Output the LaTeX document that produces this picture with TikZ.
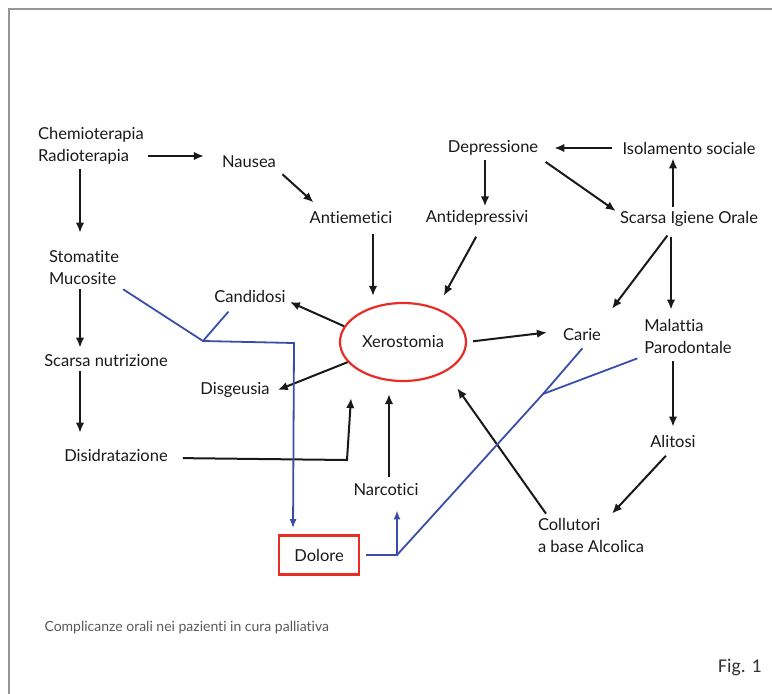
\documentclass[tikz,border=0pt]{standalone}
\usepackage{fontspec}
\setmainfont{Lato}[Ligatures=NoCommon]
\newfontfamily\figfont{Carlito}
\usetikzlibrary{shapes.geometric, arrows.meta}

\definecolor{txt}{RGB}{25,25,25}
\definecolor{blu}{RGB}{58,78,168}
\definecolor{rosso}{RGB}{232,45,38}
\definecolor{cornice}{RGB}{150,150,150}

\tikzset{
	lbl/.style={font=\fontsize{16.5}{22}\selectfont, text=txt, inner sep=4pt, align=left},
	arr/.style={arrows={-Latex[length=10pt, width=8.5pt]}, line width=2pt, draw=txt},
	bline/.style={draw=blu, line width=1.8pt},
	barr/.style={bline, arrows={-Latex[length=9pt, width=7pt]}},
}

\begin{document}
\begin{tikzpicture}[x=1pt, y=-1pt]
	\useasboundingbox (0,0) rectangle (772,694);
	\draw [cornice, line width=1.5pt] (9,694) -- (9,9) -- (772,9);

	\node [lbl] (chemio) at (91,146) {Chemioterapia\\Radioterapia};
	\node [lbl] (nausea) at (249,162) {Nausea};
	\node [lbl] (antiem) at (351,218) {Antiemetici};
	\node [lbl] (stoma) at (84,268) {Stomatite\\Mucosite};
	\node [lbl] (nutri) at (106,361) {Scarsa nutrizione};
	\node [lbl] (disid) at (116,455) {Disidratazione};
	\node [lbl] (candi) at (250,296) {Candidosi};
	\node [lbl] (disge) at (235,390) {Disgeusia};
	\node [lbl, ellipse, draw=rosso, line width=2.2pt, inner sep=0pt,
		minimum width=126, minimum height=78] (xero) at (403,342) {Xerostomia};
	\node [lbl] (carie) at (582,335) {Carie};
	\node [lbl] (depre) at (493,148) {Depressione};
	\node [lbl] (antidep) at (477,218) {Antidepressivi};
	\node [lbl] (isol) at (689,148) {Isolamento sociale};
	\node [lbl] (igiene) at (689,219) {Scarsa Igiene Orale};
	\node [lbl] (malat) at (688,336) {Malattia\\Parodontale};
	\node [lbl] (alit) at (673,441) {Alitosi};
	\node [lbl] (collu) at (591,535) {Collutori\\a base Alcolica};
	\node [lbl] (narco) at (386,490) {Narcotici};
	\node [lbl, draw=rosso, line width=2.6pt, minimum width=80, minimum height=39] (dolore) at (319,555) {Dolore};

	\coordinate (bend) at (347,460);
	\coordinate (jA) at (203,341);
	\coordinate (jB) at (294,343);
	\coordinate (jC) at (397,555);
	\coordinate (jD) at (543,394);

	\draw [arr, shorten >=14pt] ([yshift=-10pt]chemio.east) -- ([yshift=6pt]nausea.west);
	\draw [arr, shorten <=3pt, shorten >=8pt] (nausea.south east) -- ([xshift=14pt]antiem.north west);
	\draw [arr, shorten <=6pt, shorten >=6pt] ([xshift=22pt]antiem.south) -- ([xshift=-30pt]xero.north);
	\draw [arr, shorten >=14pt] ([xshift=-11pt]chemio.south) -- ([xshift=-4pt]stoma.north);
	\draw [arr, shorten >=3pt] ([xshift=-4pt]stoma.south) -- ([xshift=-26pt]nutri.north);
	\draw [arr, shorten >=12pt] ([xshift=-26pt]nutri.south) -- ([xshift=-36pt]disid.north);
	\draw [arr, shorten <=11pt, shorten >=16pt] ([yshift=-3pt]disid.east) -- (bend) -- ([xshift=-51pt]xero.south);
	\draw [arr] (xero.165) -- ([yshift=-6pt]candi.east);
	\draw [arr] (xero.200) -- ([xshift=4pt]disge.east);
	\draw [arr, shorten <=6pt, shorten >=12pt] (xero.east) -- ([yshift=4pt]carie.west);
	\draw [arr, shorten <=8pt, shorten >=14pt] ([xshift=3pt]antidep.south) -- (xero.45);
	\draw [arr] ([xshift=-8pt]depre.south) -- ([xshift=8pt]antidep.north);
	\draw [arr, shorten <=6pt, shorten >=12pt] (isol.west) -- (depre.east);
	\draw [arr] ([xshift=-16pt]igiene.north) -- ([xshift=-16pt]isol.south);
	\draw [arr, shorten <=4pt] (depre.south east) -- ([yshift=8pt]igiene.west);
	\draw [arr, shorten <=6pt] ([xshift=-18pt]igiene.south) -- ([xshift=30pt, yshift=16pt]carie.north);
	\draw [arr, shorten <=6pt, shorten >=5pt] ([xshift=-18pt]igiene.south) -- ([xshift=-17pt]malat.north);
	\draw [arr, shorten <=4pt, shorten >=4pt] ([xshift=-15pt]malat.south) -- (alit.north);
	\draw [arr, shorten <=6pt] ([xshift=-3pt]alit.south) -- ([xshift=21pt]collu.north);
	\draw [arr, shorten >=20pt] ([xshift=-45pt]collu.north) -- (xero.-35);
	\draw [arr, shorten <=3pt, shorten >=12pt] ([xshift=3pt]narco.north) -- ([xshift=-14pt]xero.south);

	\draw [barr, shorten >=6pt] (stoma.south east) -- (jA) -- (jB) -- ([xshift=-26pt]dolore.north);
	\draw [bline, shorten <=7pt] ([xshift=-17pt]candi.south) -- (jA);
	\draw [barr, shorten <=6pt, shorten >=10pt] (dolore.east) -- (jC) -- ([xshift=11pt]narco.south);
	\draw [bline, shorten >=4pt] (jC) -- (jD) -- ([xshift=3pt]carie.south);
	\draw [bline, shorten <=3pt] (malat.south west) -- (jD);

	\node [anchor=west, text=black!65, font=\fontsize{14}{16}\selectfont] (capt) at (41,628) {Complicanze orali nei pazienti in cura palliativa};
	\node [anchor=east, text=black!80, font=\figfont\fontsize{19.5}{22}\selectfont] (fig) at (765,667) {Fig. 1};
\end{tikzpicture}
\end{document}
